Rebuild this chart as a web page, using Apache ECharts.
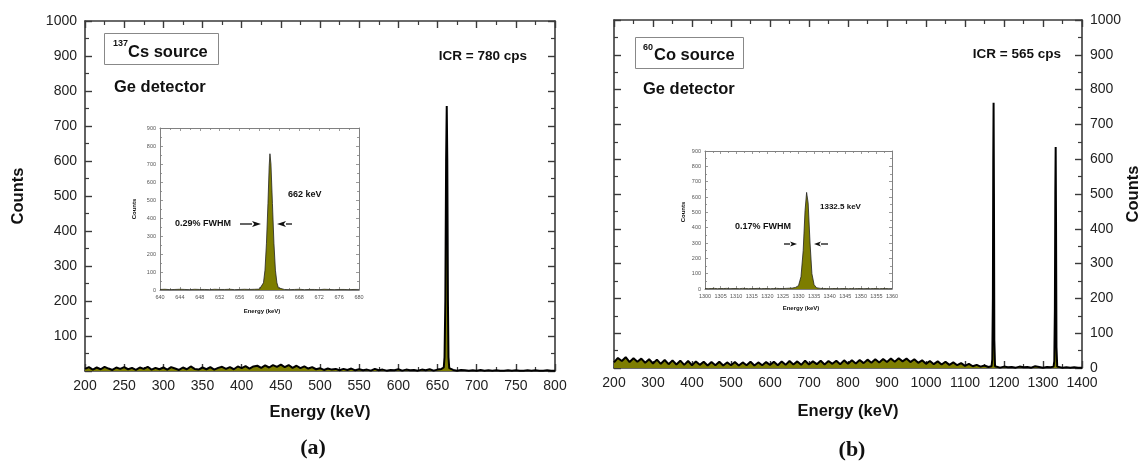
<!DOCTYPE html>
<html>
<head>
<meta charset="utf-8">
<script src="https://cdn.jsdelivr.net/npm/echarts@6/dist/echarts.min.js"></script>
<style>html,body{margin:0;padding:0;background:#fff}#c{width:1141px;height:462px}</style>
</head>
<body>
<div id="c"></div>
<script>
// ---------- Panel (a): 137Cs main spectrum ----------
const aBgStart = 200, aBgStep = 5;           // channel energies 200..655 keV
const aBgCounts = [
  6,11,4,10,5,12,7,3,10,6,
  11,5,9,3,10,6,12,4,9,5,
  10,4,11,7,3,10,5,13,6,4,
  10,5,11,4,9,12,6,11,5,13,
  8,14,7,13,15,9,16,10,17,12,
  18,11,17,9,15,8,13,7,11,5,
  8,3,7,4,6,2,6,3,7,2,
  5,2,4,1,6,2,4,1,3,2,
  5,1,4,2,3,1,4,2,5,1,
  4,6
];
const aPeakEnergy = [657, 658, 659, 660, 661, 661.8, 662.5, 663.3, 664, 665, 666];
const aPeakCounts = [5, 10, 40, 200, 600, 757, 600, 200, 40, 8, 3];
const aTailStart = 670, aTailStep = 5;       // 670..800 keV
const aTailCounts = [3,1,3,2,1,2,1,3,1,2,1,2,1,1,2,1,2,1,1,2,1,2,1,1,2,1,1];

// ---------- Panel (a) inset ----------
const aiLowStart = 640;                       // 640..659 keV, 1 keV step
const aiLowCounts = [3,4,2,3,4,3,2,4,3,3,2,4,3,3,4,2,3,4,3,4];
const aiPeakEnergy = [660, 660.4, 660.8, 661.1, 661.4, 661.7, 661.95, 662.1, 662.3, 662.6, 662.9, 663.2, 663.5, 663.8, 664.2];
const aiPeakCounts = [5, 12, 40, 110, 260, 480, 690, 757, 700, 480, 260, 110, 40, 12, 5];
const aiHighStart = 665;                      // 665..680 keV
const aiHighCounts = [3,2,3,4,2,3,3,2,4,3,2,3,3,2,3,3];

// ---------- Panel (b): 60Co main spectrum ----------
const bBgStart = 200, bBgStep = 10;           // 200..1160 keV
const bBgCounts = [
  16,29,20,31,17,28,18,27,15,25,
  13,24,12,23,11,22,10,21,9,20,
  8,19,9,18,7,17,8,18,7,16,
  8,17,7,16,8,18,7,16,8,17,
  9,18,8,19,9,20,10,19,9,21,
  10,19,11,21,10,20,12,21,11,22,
  12,22,13,23,14,24,15,25,16,26,
  17,27,18,28,19,27,17,25,15,22,
  12,20,11,19,10,18,9,16,8,14,
  6,12,5,9,4,7,3
];
const bPeak1Energy = [1168, 1170, 1171.5, 1172.5, 1173.3, 1174.2, 1175.2, 1177];
const bPeak1Counts = [5, 25, 200, 600, 762, 500, 80, 5];
const bMidStart = 1180, bMidStep = 10;        // 1180..1320 keV
const bMidCounts = [3,1,4,2,3,1,4,2,3,1,5,3,1,3,2];
const bPeak2Energy = [1327, 1329, 1330.5, 1331.6, 1332.5, 1333.4, 1334.5, 1336.5];
const bPeak2Counts = [4, 20, 170, 500, 635, 420, 60, 4];
const bTailStart = 1340, bTailStep = 10;      // 1340..1400 keV
const bTailCounts = [3,1,2,1,2,1,1];

// ---------- Panel (b) inset ----------
const biLowStart = 1300;                      // 1300..1327 keV
const biLowCounts = [3,2,3,4,2,3,3,4,2,3,3,2,4,3,2,3,3,4,2,3,3,2,3,4,3,3,4,5];
const biPeakEnergy = [1328, 1329, 1330, 1330.8, 1331.5, 1332.1, 1332.6, 1333.1, 1333.7, 1334.3, 1335, 1335.8];
const biPeakCounts = [6, 10, 22, 80, 250, 510, 630, 560, 300, 100, 28, 8];
const biHighStart = 1337;                     // 1337..1360 keV
const biHighCounts = [4,3,3,2,3,3,2,3,3,2,3,2,3,3,2,3,2,3,3,2,3,3,2,3];

// ---------- tick labels ----------
const mainYTicks = {min: 0, max: 1000, interval: 100};
const aXTicks = {min: 200, max: 800, interval: 50};
const bXTicks = {min: 200, max: 1400, interval: 100};
const aiXTicks = {min: 640, max: 680, interval: 4};
const biXTicks = {min: 1300, max: 1360, interval: 5};
const insetYTicks = {min: 0, max: 900, interval: 100};

// ---------- helpers ----------
function stepped(start, step, counts) { return counts.map((c, i) => [start + i * step, c]); }
function paired(es, cs) { return es.map((e, i) => [e, cs[i]]); }

const dataA = [].concat(stepped(aBgStart, aBgStep, aBgCounts), paired(aPeakEnergy, aPeakCounts), stepped(aTailStart, aTailStep, aTailCounts));
const dataAi = [].concat(stepped(aiLowStart, 1, aiLowCounts), paired(aiPeakEnergy, aiPeakCounts), stepped(aiHighStart, 1, aiHighCounts));
const dataB = [].concat(stepped(bBgStart, bBgStep, bBgCounts), paired(bPeak1Energy, bPeak1Counts), stepped(bMidStart, bMidStep, bMidCounts), paired(bPeak2Energy, bPeak2Counts), stepped(bTailStart, bTailStep, bTailCounts));
const dataBi = [].concat(stepped(biLowStart, 1, biLowCounts), paired(biPeakEnergy, biPeakCounts), stepped(biHighStart, 1, biHighCounts));

const SANS = '"Liberation Sans", Arial, sans-serif';
const SERIF = '"Liberation Serif", "Times New Roman", serif';
const OLIVE = '#7d7d00';
const AX = '#3a3a3a';
const AXI = '#808080';
const plain = v => String(v);

function mainAxis(gridIndex, ticks, position, showLabel, fmt) {
  return {
    gridIndex, type: 'value', position,
    min: ticks.min, max: ticks.max, interval: ticks.interval,
    axisLine: {show: true, onZero: false, lineStyle: {color: AX, width: 1.6}},
    axisTick: {show: true, inside: true, length: 7, lineStyle: {color: AX, width: 1.4}},
    minorTick: {show: true, splitNumber: 2, length: 4, lineStyle: {color: AX, width: 1.2}},
    splitLine: {show: false},
    axisLabel: {show: showLabel, fontFamily: SANS, fontSize: 14, color: '#222', margin: 8, formatter: fmt || plain}
  };
}
function insetAxis(gridIndex, ticks, position, showLabel) {
  return {
    gridIndex, type: 'value', position,
    min: ticks.min, max: ticks.max, interval: ticks.interval,
    axisLine: {show: true, onZero: false, lineStyle: {color: AXI, width: 1}},
    axisTick: {show: true, inside: true, length: 3, lineStyle: {color: AXI, width: 0.8}},
    minorTick: {show: true, splitNumber: 2, length: 2, lineStyle: {color: AXI, width: 0.8}},
    splitLine: {show: false},
    axisLabel: {show: showLabel, fontFamily: SANS, fontSize: 5.5, color: '#555', margin: 4, formatter: plain}
  };
}

const option = {
  animation: false,
  backgroundColor: '#fff',
  grid: [
    {left: 85, top: 21, width: 470, height: 350},
    {left: 160, top: 128, width: 199, height: 162},
    {left: 614, top: 20, width: 468, height: 348},
    {left: 705, top: 151, width: 187, height: 138}
  ],
  xAxis: [
    mainAxis(0, aXTicks, 'bottom', true),
    mainAxis(0, aXTicks, 'top', false),
    insetAxis(1, aiXTicks, 'bottom', true),
    insetAxis(1, aiXTicks, 'top', false),
    mainAxis(2, bXTicks, 'bottom', true),
    mainAxis(2, bXTicks, 'top', false),
    insetAxis(3, biXTicks, 'bottom', true),
    insetAxis(3, biXTicks, 'top', false)
  ],
  yAxis: [
    mainAxis(0, mainYTicks, 'left', true, v => v === 0 ? '' : String(v)),
    mainAxis(0, mainYTicks, 'right', false),
    insetAxis(1, insetYTicks, 'left', true),
    insetAxis(1, insetYTicks, 'right', false),
    mainAxis(2, mainYTicks, 'right', true),
    mainAxis(2, mainYTicks, 'left', false),
    insetAxis(3, insetYTicks, 'left', true),
    insetAxis(3, insetYTicks, 'right', false)
  ],
  series: [
    {type: 'line', xAxisIndex: 0, yAxisIndex: 0, data: dataA, symbol: 'none', lineStyle: {color: '#000', width: 2}, areaStyle: {color: OLIVE, opacity: 1}, z: 2},
    {type: 'line', xAxisIndex: 2, yAxisIndex: 2, data: dataAi, symbol: 'none', lineStyle: {color: '#222', width: 0.8}, areaStyle: {color: OLIVE, opacity: 1}, z: 3},
    {type: 'line', xAxisIndex: 4, yAxisIndex: 4, data: dataB, symbol: 'none', lineStyle: {color: '#000', width: 2}, areaStyle: {color: OLIVE, opacity: 1}, z: 2},
    {type: 'line', xAxisIndex: 6, yAxisIndex: 6, data: dataBi, symbol: 'none', lineStyle: {color: '#222', width: 0.8}, areaStyle: {color: OLIVE, opacity: 1}, z: 3}
  ],
  graphic: []
};

function txt(x, y, text, font, align, extra) {
  return Object.assign({type: 'text', x, y, style: {text, font, fill: '#111', textAlign: align || 'left', textVerticalAlign: 'middle'}, z: 50}, extra || {});
}
function arrow(x1, x2, y, head, hh) {
  const dir = x2 > x1 ? 1 : -1;
  const base = x2 - dir * head;
  return [
    {type: 'line', shape: {x1, y1: y, x2: base, y2: y}, style: {stroke: '#111', lineWidth: 1.3}, z: 50},
    {type: 'polygon', shape: {points: [[x2, y], [base, y - hh], [base + dir * head * 0.25, y], [base, y + hh]]}, style: {fill: '#111'}, z: 50}
  ];
}

const g = option.graphic;
// panel (a)
g.push({type: 'rect', shape: {x: 104.5, y: 33.5, width: 114, height: 31}, style: {fill: '#fff', stroke: '#888', lineWidth: 1}, z: 40});
g.push(txt(113, 44, '137', 'bold 9px ' + SANS));
g.push(txt(128, 52, 'Cs source', 'bold 16.5px ' + SANS));
g.push(txt(527, 56, 'ICR = 780 cps', 'bold 13.5px ' + SANS, 'right'));
g.push(txt(114, 87, 'Ge detector', 'bold 16.5px ' + SANS));
g.push(txt(18, 196, 'Counts', 'bold 16.5px ' + SANS, 'center', {rotation: Math.PI / 2}));
g.push(txt(320, 412, 'Energy (keV)', 'bold 16.5px ' + SANS, 'center'));
g.push(txt(313, 448, '(a)', 'bold 22px ' + SERIF, 'center'));
// inset (a)
g.push(txt(134, 209, 'Counts', 'bold 6px ' + SANS, 'center', {rotation: Math.PI / 2}));
g.push(txt(262, 311, 'Energy (keV)', 'bold 6px ' + SANS, 'center'));
g.push(txt(175, 224, '0.29% FWHM', 'bold 9px ' + SANS));
g.push(txt(288, 195, '662 keV', 'bold 9px ' + SANS));
g.push(...arrow(240, 261, 224, 9, 3));
g.push(...arrow(292, 277, 224, 9, 3));
// panel (b)
g.push({type: 'rect', shape: {x: 635.5, y: 37.5, width: 108, height: 31}, style: {fill: '#fff', stroke: '#888', lineWidth: 1}, z: 40});
g.push(txt(643, 48, '60', 'bold 9px ' + SANS));
g.push(txt(654, 55, 'Co source', 'bold 16.5px ' + SANS));
g.push(txt(1061, 54, 'ICR = 565 cps', 'bold 13.5px ' + SANS, 'right'));
g.push(txt(643, 89, 'Ge detector', 'bold 16.5px ' + SANS));
g.push(txt(1133, 194, 'Counts', 'bold 16.5px ' + SANS, 'center', {rotation: Math.PI / 2}));
g.push(txt(848, 411, 'Energy (keV)', 'bold 16.5px ' + SANS, 'center'));
g.push(txt(852, 450, '(b)', 'bold 22px ' + SERIF, 'center'));
// inset (b)
g.push(txt(683, 212, 'Counts', 'bold 6px ' + SANS, 'center', {rotation: Math.PI / 2}));
g.push(txt(801, 308, 'Energy (keV)', 'bold 6px ' + SANS, 'center'));
g.push(txt(735, 227, '0.17% FWHM', 'bold 9px ' + SANS));
g.push(txt(820, 207, '1332.5 keV', 'bold 8px ' + SANS));
g.push(...arrow(784, 797, 244, 7, 2.5));
g.push(...arrow(828, 814, 244, 7, 2.5));

const chart = echarts.init(document.getElementById('c'), null, {renderer: 'canvas'});
chart.setOption(option);
</script>
</body>
</html>
